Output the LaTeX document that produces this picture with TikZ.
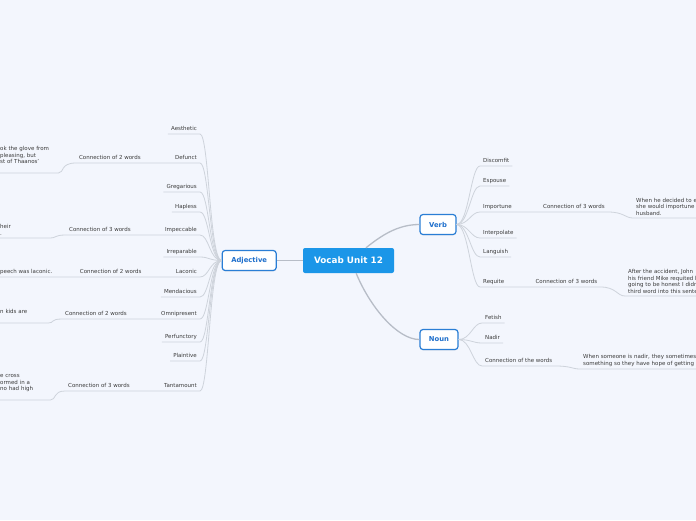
\documentclass[tikz,border=0pt]{standalone}
\usepackage{fontspec}
\setmainfont{DejaVu Sans}
\usepackage{tikz}
\usetikzlibrary{positioning,shadows}
\usepackage{xcolor}
\definecolor{paper}{HTML}{F3F6FD}
\definecolor{ink}{HTML}{3B3B3B}
\definecolor{topic}{HTML}{1B96E8}
\definecolor{branch}{HTML}{2A7ED5}
\definecolor{branchtext}{HTML}{1E6FCC}
\definecolor{twig}{HTML}{CED3DB}
\definecolor{trunk}{HTML}{B7BDC7}
\newcommand{\leaffont}{\fontsize{5.5}{6.6}\selectfont}
\tikzset{
  every node/.style={text=ink},
  topicbox/.style={fill=topic,rounded corners=2pt,minimum width=91pt,minimum height=25pt,inner sep=0pt,text=white,font=\fontsize{8.8}{10}\selectfont\bfseries},
  branchbox/.style={draw=branch,line width=1.2pt,fill=white,rounded corners=3pt,minimum height=20pt,inner sep=0pt,text=branchtext,font=\fontsize{6.8}{8}\selectfont\bfseries,drop shadow={opacity=0.12,shadow xshift=0pt,shadow yshift=-1pt}},
  leaf/.style={font=\leaffont,inner xsep=3pt,inner ysep=2.4pt,text height=4.2pt,text depth=1.2pt},
  leafleft/.style={leaf,anchor=south east},
  leafright/.style={leaf,anchor=south west},
  note/.style={font=\leaffont,align=left,inner xsep=3pt,inner ysep=2.4pt},
  trunkline/.style={draw=trunk,line width=1.3pt},
  twigline/.style={draw=twig,line width=0.8pt},
}

\begin{document}
\begin{tikzpicture}[x=1pt,y=-1pt]
\path[use as bounding box,fill=paper] (0,0) rectangle (696,520);
\clip (0,0) rectangle (696,520);

\node[topicbox] (root) at (348.5,260.5) {Vocab Unit 12};
\node[branchbox,minimum width=54pt,left=26pt of root] (adj) {Adjective};
\node[branchbox,minimum width=36pt] (verb) at (438,224.5) {Verb};
\node[branchbox,minimum width=38pt] (noun) at (439,339.5) {Noun};

% adjectives
\node[leafleft] (aesthetic) at (200,134) {Aesthetic};
\node[leafleft] (defunct) at (200,163) {Defunct};
\node[leafleft] (gregarious) at (200,192) {Gregarious};
\node[leafleft] (hapless) at (200,212) {Hapless};
\node[leafleft] (impeccable) at (200,235) {Impeccable};
\node[leafleft] (irreparable) at (200,257) {Irreparable};
\node[leafleft] (laconic) at (200,277) {Laconic};
\node[leafleft] (mendacious) at (200,297) {Mendacious};
\node[leafleft] (omnipresent) at (200,319) {Omnipresent};
\node[leafleft] (perfunctory) at (200,342) {Perfunctory};
\node[leafleft] (plaintive) at (200,361) {Plaintive};
\node[leafleft] (tantamount) at (200,391) {Tantamount};

\node[leaf,left=28pt of defunct] (defunctconn) {Connection of 2 words};
\node[leaf,left=28pt of impeccable] (impeccableconn) {Connection of 3 words};
\node[leaf,left=28pt of laconic] (laconicconn) {Connection of 2 words};
\node[leaf,left=28pt of omnipresent] (omnipresentconn) {Connection of 2 words};
\node[leaf,left=28pt of tantamount] (tantamountconn) {Connection of 3 words};

\node[note,text width=55pt,anchor=south west] (defunctex) at (-3,173) {ok the glove from\\pleasing, but\\st of Thaanos'\\\mbox{}};
\node[note,text width=47pt,anchor=south west] (impeccableex) at (-3,238) {heir\\.};
\node[leaf,anchor=south west] (laconicex) at (-3,277) {peech was laconic.};
\node[note,text width=45pt,anchor=south west] (omnipresentex) at (-3,323) {n kids are\\\mbox{}};
\node[note,text width=47pt,anchor=south west] (tantamountex) at (-3,400) {e cross\\ormed in a\\no had high\\\mbox{}};

% verbs
\node[leafright] (discomfit) at (480,166) {Discomfit};
\node[leafright] (espouse) at (480,186) {Espouse};
\node[leafright] (importune) at (480,212) {Importune};
\node[leafright] (interpolate) at (480,238) {Interpolate};
\node[leafright] (languish) at (480,257) {Languish};
\node[leafright] (requite) at (480,287) {Requite};
\node[leaf,right=25pt of importune] (importuneconn) {Connection of 3 words};
\node[leaf,right=25pt of requite] (requiteconn) {Connection of 3 words};
\node[note,text width=120pt,anchor=south west] (importuneex) at (633,218) {When he decided to e\\she would importune\\husband.};
\node[note,text width=120pt,anchor=south west] (requiteex) at (625,296) {After the accident, John\\his friend Mike requited h\\going to be honest I didn\\third word into this sente};

% nouns
\node[leafright] (fetish) at (482,323) {Fetish};
\node[leafright] (nadir) at (482,343) {Nadir};
\node[leafright] (nounconn) at (482,366) {Connection of the words};
\node[note,text width=130pt,anchor=south west] (nounex) at (580,369) {When someone is nadir, they sometimes\\something so they have hope of getting};

\draw[trunkline] (root.west) -- (adj.east);
\draw[trunkline] (root.36) .. controls +(15,-12) and +(-22,0) .. (verb.west);
\draw[trunkline] (root.-59) .. controls +(14,34) and +(-22,0) .. (noun.west);

\draw[twigline] (adj.west) .. controls +(-12,0) and +(9,0) .. (aesthetic.south east) -- (aesthetic.south west);
\draw[twigline] (adj.west) .. controls +(-12,0) and +(9,0) .. (defunct.south east) -- (defunctconn.south west) .. controls +(-16,0) and +(6,0) .. (defunctex.south east) -- (defunctex.south west);
\draw[twigline] (adj.west) .. controls +(-12,0) and +(9,0) .. (gregarious.south east) -- (gregarious.south west);
\draw[twigline] (adj.west) .. controls +(-12,0) and +(9,0) .. (hapless.south east) -- (hapless.south west);
\draw[twigline] (adj.west) .. controls +(-12,0) and +(9,0) .. (impeccable.south east) -- (impeccableconn.south west) .. controls +(-12,0) and +(6,0) .. (impeccableex.south east) -- (impeccableex.south west);
\draw[twigline] (adj.west) .. controls +(-12,0) and +(9,0) .. (irreparable.south east) -- (irreparable.south west);
\draw[twigline] (adj.west) .. controls +(-12,0) and +(9,0) .. (laconic.south east) -- (laconicex.south west);
\draw[twigline] (adj.west) .. controls +(-12,0) and +(9,0) .. (mendacious.south east) -- (mendacious.south west);
\draw[twigline] (adj.west) .. controls +(-12,0) and +(9,0) .. (omnipresent.south east) -- (omnipresentconn.south west) .. controls +(-12,0) and +(6,0) .. (omnipresentex.south east) -- (omnipresentex.south west);
\draw[twigline] (adj.west) .. controls +(-12,0) and +(9,0) .. (perfunctory.south east) -- (perfunctory.south west);
\draw[twigline] (adj.west) .. controls +(-12,0) and +(9,0) .. (plaintive.south east) -- (plaintive.south west);
\draw[twigline] (adj.west) .. controls +(-12,0) and +(9,0) .. (tantamount.south east) -- (tantamountconn.south west) .. controls +(-12,0) and +(6,0) .. (tantamountex.south east) -- (tantamountex.south west);

\draw[twigline] (verb.east) .. controls +(12,0) and +(-9,0) .. (discomfit.south west) -- (discomfit.south east);
\draw[twigline] (verb.east) .. controls +(12,0) and +(-9,0) .. (espouse.south west) -- (espouse.south east);
\draw[twigline] (verb.east) .. controls +(12,0) and +(-9,0) .. (importune.south west) -- (importuneconn.south east) .. controls +(16,0) and +(-8,0) .. (importuneex.south west) -- (importuneex.south east);
\draw[twigline] (verb.east) .. controls +(12,0) and +(-9,0) .. (interpolate.south west) -- (interpolate.south east);
\draw[twigline] (verb.east) .. controls +(12,0) and +(-9,0) .. (languish.south west) -- (languish.south east);
\draw[twigline] (verb.east) .. controls +(12,0) and +(-9,0) .. (requite.south west) -- (requiteconn.south east) .. controls +(16,0) and +(-8,0) .. (requiteex.south west) -- (requiteex.south east);

\draw[twigline] (noun.east) .. controls +(12,0) and +(-9,0) .. (fetish.south west) -- (fetish.south east);
\draw[twigline] (noun.east) .. controls +(12,0) and +(-9,0) .. (nadir.south west) -- (nadir.south east);
\draw[twigline] (noun.east) .. controls +(12,0) and +(-9,0) .. (nounconn.south west) -- (nounconn.south east) .. controls +(16,0) and +(-8,0) .. (nounex.south west) -- (nounex.south east);

\end{tikzpicture}
\end{document}
